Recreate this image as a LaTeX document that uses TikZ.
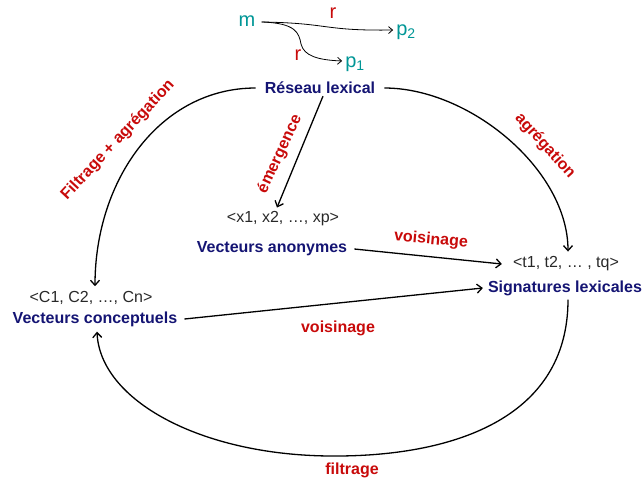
\documentclass[tikz,border=0pt]{standalone}
\usepackage{fontspec}
\setmainfont{Liberation Sans}
\usetikzlibrary{arrows.meta}
\definecolor{navy}{RGB}{20,20,115}
\definecolor{lred}{RGB}{200,10,10}
\definecolor{tealc}{RGB}{0,150,150}
\definecolor{gtext}{RGB}{40,40,40}
\begin{document}
\begin{tikzpicture}[x=1pt,y=-1pt,
  title/.style={font=\fontsize{16}{18}\selectfont\bfseries, text=navy, inner sep=1pt},
  vec/.style={font=\fontsize{16}{18}\selectfont, text=gtext, inner sep=1pt},
  lab/.style={font=\fontsize{16}{18}\selectfont\bfseries, text=lred, inner sep=1pt},
  big/.style={font=\fontsize{20}{22}\selectfont, inner sep=1pt},
  conn/.style={line width=1.3pt, -{Straight Barb[length=5pt,width=9pt,line width=1.3pt]}},
  thinarr/.style={line width=0.8pt, -{Straight Barb[length=4pt,width=7pt,line width=0.8pt]}}]
\useasboundingbox (0,0) rectangle (643,483);
% top small graph
\node[big, text=tealc] (m) at (247,21) {m};
\node[big, text=tealc] (p2) at (406,32) {p\textsubscript{2}};
\node[big, text=tealc] (p1) at (355,64) {p\textsubscript{1}};
\node[big, text=lred] (r1) at (333,13) {r};
\node[big, text=lred] (r2) at (298,55) {r};
\draw[thinarr] ([xshift=5pt,yshift=-1pt]m.east) .. controls (330,23) and (322,31) .. ([xshift=-2pt,yshift=2pt]p2.west);
\draw[thinarr] ([xshift=5pt,yshift=-1pt]m.east) .. controls (296,23) and (299,33) .. (301,44) .. controls (304,56) and (318,60) .. ([xshift=-2pt,yshift=3pt]p1.west);
% main nodes
\node[title] (reseau) at (320,88) {Réseau lexical};
\node[vec] (xvec) at (283,219) {<x1, x2, …, xp>};
\node[title] (anon) at (272,249) {Vecteurs anonymes};
\node[vec] (tvec) at (566,264) {<t1, t2, … , tq>};
\node[title] (sig) at (565,288) {Signatures lexicales};
\node[vec] (cvec) at (91,298) {<C1, C2, …, Cn>};
\node[title] (conc) at (95,319) {Vecteurs conceptuels};
% connectors
\draw[conn] ([xshift=-8pt]reseau.west) .. controls (160,88) and (95,180) .. ([xshift=4pt,yshift=4pt]cvec.north);
\draw[conn] ([xshift=8pt]reseau.east) .. controls (470,88) and (568,170) .. ([xshift=2pt,yshift=4pt]tvec.north);
\draw[conn] ([xshift=3pt,yshift=-1pt]reseau.south) -- ([xshift=-6pt,yshift=3pt]xvec.north);
\draw[conn] ([xshift=6pt]anon.east) -- ([xshift=-10pt]tvec.west);
\draw[conn] ([xshift=6pt]conc.east) -- ([xshift=-4pt]sig.west);
\draw[conn] ([xshift=3pt,yshift=-3pt]sig.south) .. controls (568,420) and (450,457) .. (330,456) .. controls (200,455) and (100,400) .. ([xshift=2pt,yshift=-4pt]conc.south);
% labels
\node[lab, rotate=47] (fa) at (118,140) {Filtrage + agrégation};
\node[lab, rotate=-48] (ag) at (545,146) {agrégation};
\node[lab, rotate=65] (em) at (280,154) {émergence};
\node[lab, rotate=-5] (v1) at (431,240) {voisinage};
\node[lab] (v2) at (338,328) {voisinage};
\node[lab] (fi) at (352,470) {filtrage};
\end{tikzpicture}
\end{document}
